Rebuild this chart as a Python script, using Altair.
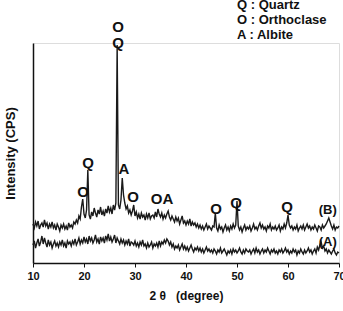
import altair as alt
import pandas as pd

# sampling grid of the scans (2-theta, degree), 0.25 degree step
two_theta = [10 + 0.25 * i for i in range(241)]

# sample (B) intensity (arbitrary CPS units)
int_b = [
    39, 35, 41, 37, 42, 34, 38, 40, 36, 43,
    37, 40, 34, 39, 36, 41, 35, 38, 33, 39,
    36, 32, 38, 35, 39, 34, 37, 33, 40, 36,
    38, 35, 41, 39, 43, 40, 47, 44, 56, 64,
    49, 45, 53, 93, 48, 44, 51, 47, 55, 50,
    46, 53, 49, 56, 48, 52, 47, 54, 50, 57,
    51, 55, 49, 58, 53, 60, 218, 58, 54, 63,
    85, 68, 60, 54, 57, 50, 53, 48, 52, 58,
    47, 51, 45, 49, 44, 50, 46, 48, 43, 49,
    45, 50, 44, 47, 48, 45, 51, 46, 54, 49,
    46, 50, 44, 48, 45, 49, 52, 46, 43, 47,
    44, 41, 46, 42, 45, 39, 43, 47, 40, 42,
    38, 42, 39, 44, 37, 41, 38, 40, 36, 39,
    35, 38, 34, 37, 33, 36, 39, 34, 37, 35,
    33, 37, 36, 50, 35, 32, 38, 34, 36, 31,
    35, 38, 33, 36, 32, 37, 34, 39, 35, 38,
    62, 37, 33, 36, 31, 35, 38, 33, 36, 34,
    37, 32, 35, 39, 34, 36, 33, 37, 40, 35,
    38, 34, 36, 32, 37, 35, 39, 33, 36, 34,
    37, 33, 35, 38, 32, 36, 34, 39, 35, 40,
    48, 38, 35, 37, 33, 36, 34, 38, 32, 35,
    37, 34, 38, 33, 36, 39, 35, 37, 33, 36,
    34, 38, 35, 32, 37, 36, 33, 38, 35, 37,
    39, 42, 45, 41, 37, 34, 38, 33, 36, 35, 37,
]

# sample (A) intensity
int_a = [
    18, 22, 15, 20, 24, 17, 21, 27, 19, 25,
    20, 16, 23, 18, 21, 15, 19, 22, 17, 20,
    16, 21, 18, 23, 17, 20, 15, 22, 19, 21,
    17, 22, 19, 24, 18, 21, 25, 19, 23, 20,
    26, 21, 24, 19, 27, 22, 25, 20, 23, 28,
    21, 24, 19, 26, 22, 25, 20, 27, 23, 29,
    22, 26, 21, 24, 28, 20, 25, 22, 19, 24,
    20, 23, 18, 22, 19, 24, 17, 21, 20, 18,
    22, 17, 20, 16, 21, 18, 23, 17, 19, 15,
    20, 16, 18, 21, 15, 19, 17, 20, 16, 22,
    17, 21, 19, 23, 20, 24, 22, 18, 21, 16,
    19, 14, 17, 15, 18, 13, 16, 19, 14, 17,
    13, 16, 12, 15, 18, 14, 11, 15, 13, 16,
    12, 15, 11, 14, 10, 13, 16, 12, 14, 11,
    13, 10, 14, 12, 9, 13, 11, 15, 10, 12,
    14, 11, 8, 12, 10, 13, 9, 14, 11, 13,
    10, 12, 15, 11, 9, 13, 10, 14, 12, 11,
    13, 9, 12, 14, 10, 15, 11, 13, 9, 12,
    14, 10, 13, 11, 15, 12, 9, 13, 11, 14,
    10, 12, 9, 13, 11, 14, 10, 12, 15, 11,
    13, 9, 12, 10, 14, 11, 13, 8, 12, 10,
    14, 11, 9, 13, 10, 12, 15, 11, 13, 9,
    12, 14, 10, 16, 13, 18, 21, 15, 17, 12,
    14, 10, 13, 11, 9, 12, 14, 10, 8, 11, 10,
]

# peak labels
peak_text = ["O", "Q", "Q", "O", "A", "O", "OA", "O", "Q", "Q"]
peak_x = [26.67, 26.67, 20.78, 19.8, 27.84, 29.6, 35.3, 45.9, 49.8, 59.8]
peak_y = [236, 220, 100, 71, 94, 66, 64, 54, 60, 56]

# curve labels
curve_text = ["(B)", "(A)"]
curve_x = [67.8, 67.8]
curve_y = [53, 21]

# phase key
key_text = ["Q : Quartz", "O : Orthoclase", "A : Albite"]
key_x = [50.0, 50.0, 50.0]
key_y = [258, 243, 228]

FONT = "Liberation Sans"
NB = "\u00a0"

df = pd.DataFrame({
    "theta": two_theta * 2,
    "intensity": int_b + int_a,
    "sample": ["B"] * len(int_b) + ["A"] * len(int_a),
})
peaks = pd.DataFrame({"t": peak_text, "x": peak_x, "y": peak_y})
curves = pd.DataFrame({"t": curve_text, "x": curve_x, "y": curve_y})
key = pd.DataFrame({"t": key_text, "x": key_x, "y": key_y})

xscale = alt.Scale(domain=[10, 70], nice=False)
yscale = alt.Scale(domain=[0, 220], nice=False)

lines = alt.Chart(df).mark_line(color="#1a1a1a", strokeWidth=1.4).encode(
    x=alt.X("theta:Q", scale=xscale,
            axis=alt.Axis(values=[10, 20, 30, 40, 50, 60, 70], format="d",
                          title="2" + NB + "θ" + NB * 3 + "(degree)", grid=False, tickSize=4,
                          labelFont=FONT, labelFontSize=11, labelFontWeight="bold",
                          labelColor="#111", titleFont=FONT, titleFontSize=12,
                          titleFontWeight="bold", titleColor="#111", titlePadding=9,
                          domainColor="#111", tickColor="#111", domainWidth=1.5,
                          labelPadding=3, labelFlush=False)),
    y=alt.Y("intensity:Q", scale=yscale,
            axis=alt.Axis(title="Intensity (CPS)", labels=False, ticks=False, grid=False,
                          titleFont=FONT, titleFontSize=13, titleFontWeight="bold",
                          titleColor="#111", titlePadding=16,
                          domainColor="#111", domainWidth=1.5)),
    detail="sample:N",
)

peak_layer = alt.Chart(peaks).mark_text(
    font=FONT, fontSize=15, fontWeight="bold", color="#111", baseline="middle", align="center"
).encode(x=alt.X("x:Q", scale=xscale), y=alt.Y("y:Q", scale=yscale), text="t:N")

curve_layer = alt.Chart(curves).mark_text(
    font=FONT, fontSize=13, fontWeight="bold", color="#111", baseline="middle", align="center"
).encode(x=alt.X("x:Q", scale=xscale), y=alt.Y("y:Q", scale=yscale), text="t:N")

key_layer = alt.Chart(key).mark_text(
    font=FONT, fontSize=13, fontWeight="bold", color="#111", baseline="middle", align="left"
).encode(x=alt.X("x:Q", scale=xscale), y=alt.Y("y:Q", scale=yscale), text="t:N")

chart = alt.layer(lines, peak_layer, curve_layer, key_layer).properties(
    width=306, height=220,
    autosize=alt.AutoSizeParams(type="none"),
    padding={"left": 33, "top": 43, "right": 4, "bottom": 48},
).configure_view(stroke=None).configure(background="white")

chart.save("out.html", embed_options={"renderer": "svg", "actions": False})
